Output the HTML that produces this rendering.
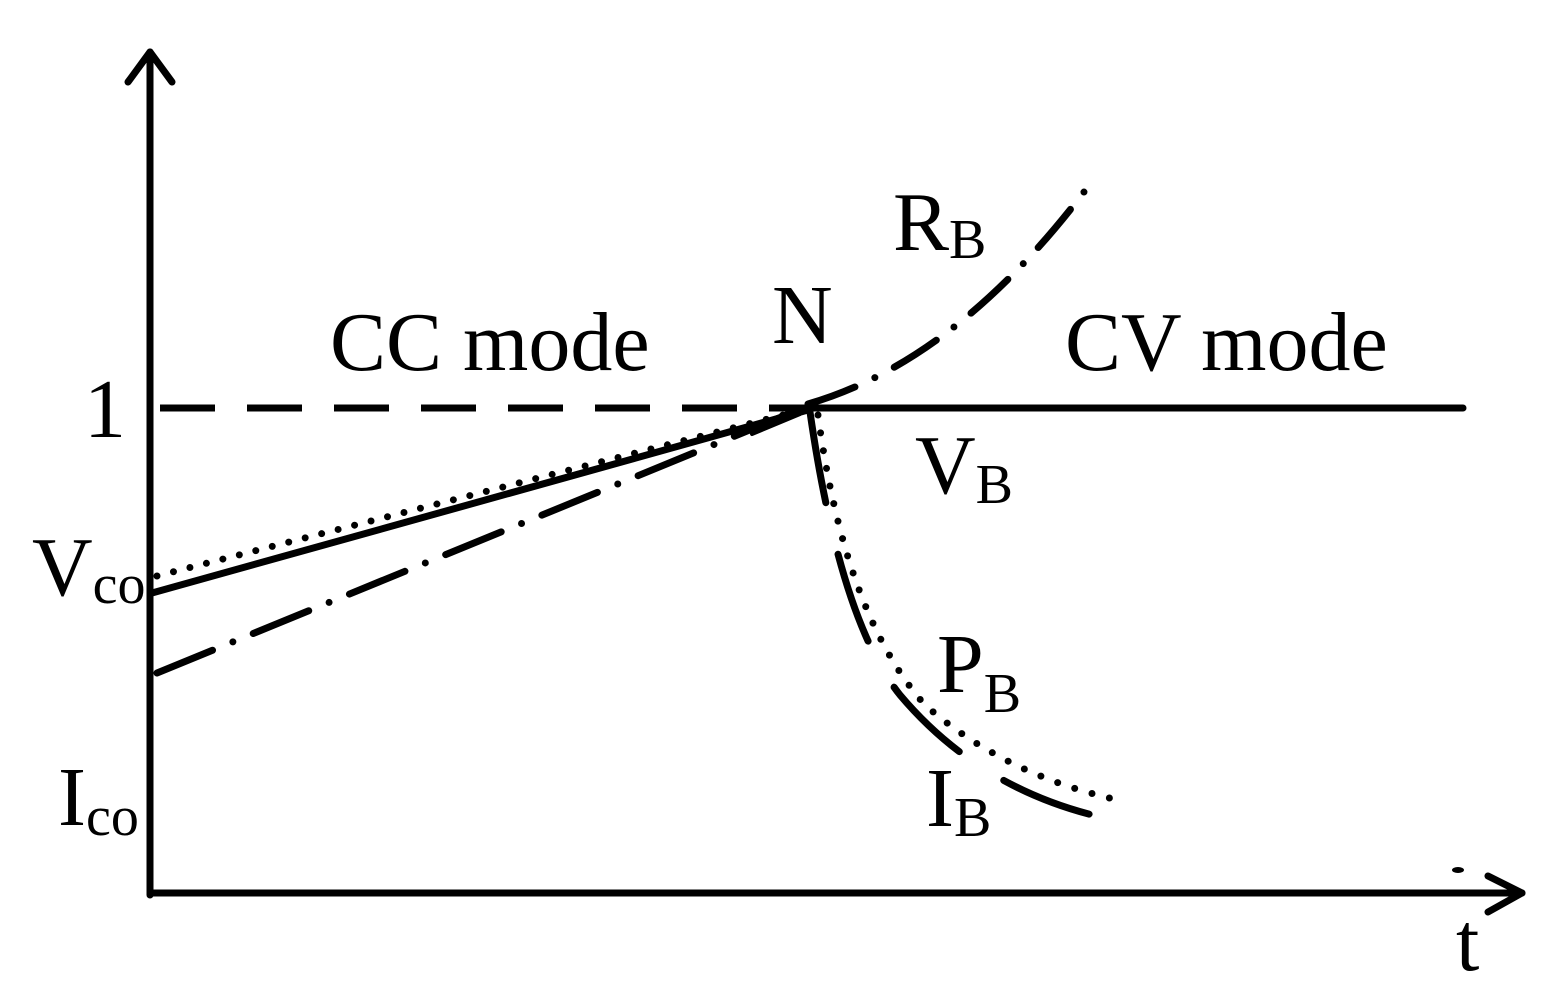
<!DOCTYPE html>
<html><head><meta charset="utf-8"><style>
html,body{margin:0;padding:0;background:#fff;}
svg{display:block;}
text{font-family:"Liberation Serif",serif;fill:#000;}
</style></head><body>
<svg width="1551" height="1008" viewBox="0 0 1551 1008" xmlns="http://www.w3.org/2000/svg">
<g stroke="#000" stroke-width="7" fill="none" stroke-linecap="round" stroke-linejoin="round">
<line x1="150" y1="52" x2="150" y2="895"/>
<line x1="150" y1="893" x2="1522" y2="893"/>
<polyline points="128,82 150,52 172,82"/>
<polyline points="1488,876 1522,893 1488,912"/>
<line x1="160" y1="408" x2="808" y2="408" stroke-dasharray="55,32" stroke-linecap="butt"/>
<line x1="808" y1="408" x2="1463" y2="408"/>
<line x1="152" y1="593" x2="808" y2="410"/>
<path d="M750,426 L800,414 L752,434 Z" stroke-width="4"/>
<line x1="157" y1="576" x2="795" y2="412" stroke-dasharray="0,17"/>
<line x1="157" y1="673" x2="808" y2="406" stroke-dasharray="60,22,0,22"/>
<path d="M808,404 Q960,360 1093,180" stroke-dasharray="50,22,0,22"/>
<path d="M810,412 Q840,620 900,695 Q980,790 1105,818" stroke-dasharray="92,53"/>
<path d="M818,415 Q845,615 925,705 Q1005,775 1118,800" stroke-dasharray="0,18"/>
</g>
<ellipse cx="1458" cy="870" rx="6" ry="3" fill="#000"/>
<g font-size="84">
<text x="330" y="370">CC mode</text>
<text x="1065" y="370">CV mode</text>
<text x="772" y="343">N</text>
<text x="84" y="437">1</text>
<text x="32" y="595">V<tspan font-size="56" dy="8">co</tspan></text>
<text x="58" y="825">I<tspan font-size="56" dy="10">co</tspan></text>
<text x="893" y="250">R<tspan font-size="56" dy="8">B</tspan></text>
<text x="915" y="493">V<tspan font-size="56" dy="10">B</tspan></text>
<text x="937" y="692">P<tspan font-size="56" dy="20">B</tspan></text>
<text x="926" y="826">I<tspan font-size="56" dy="10">B</tspan></text>
<text x="1456" y="970">t</text>
</g>
</svg>
</body></html>
